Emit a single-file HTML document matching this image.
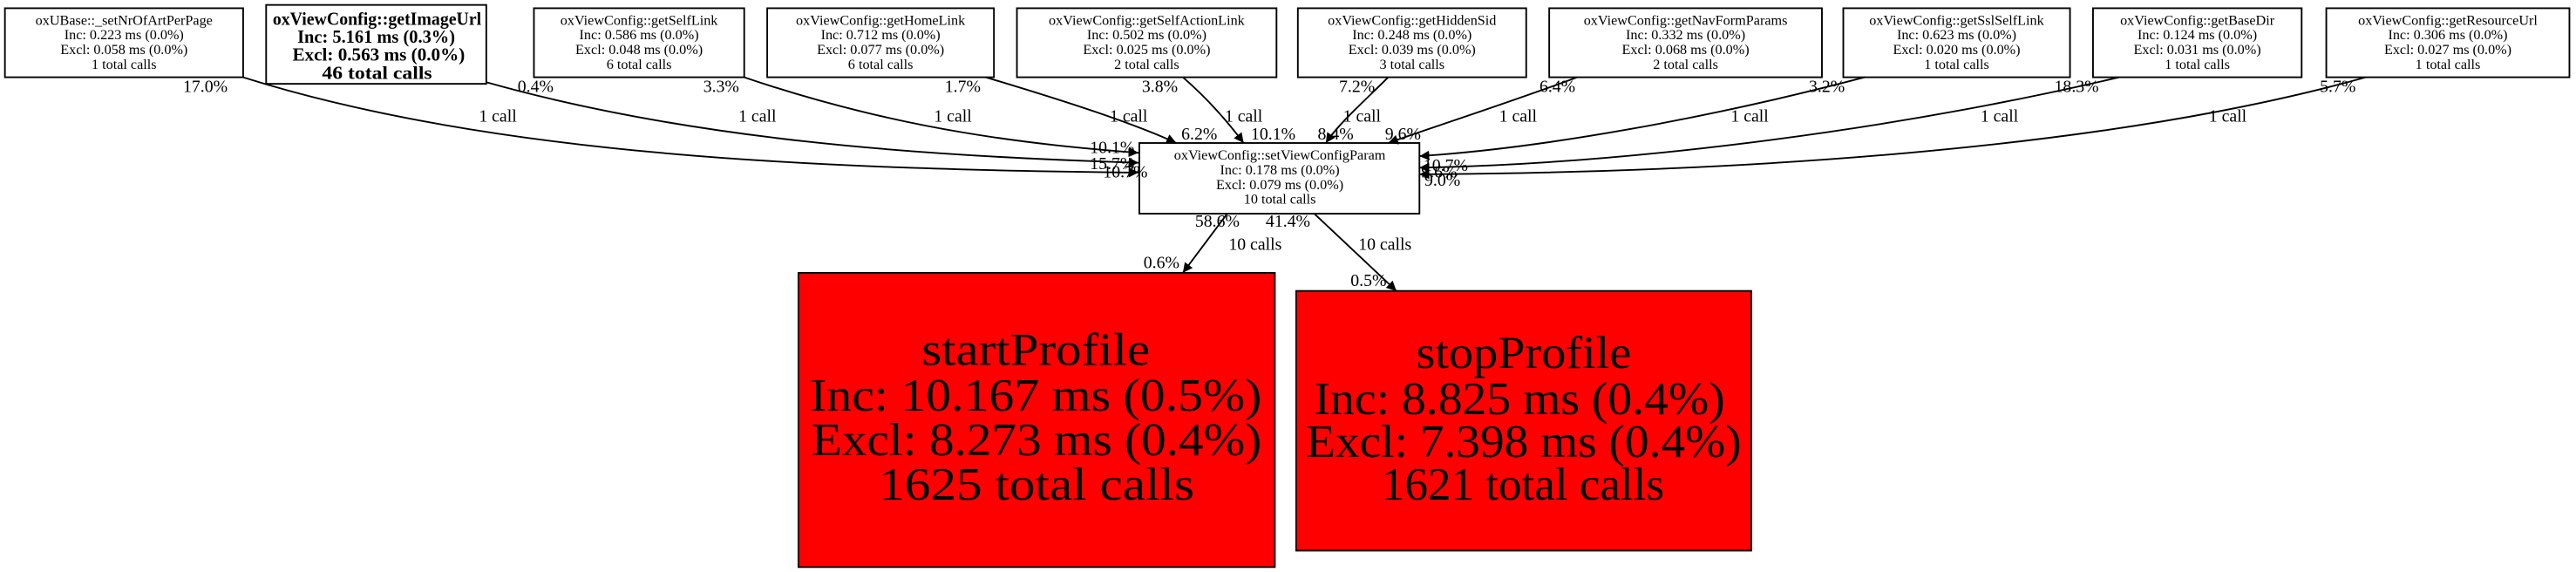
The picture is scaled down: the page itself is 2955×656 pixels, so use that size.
<!DOCTYPE html>
<html><head><meta charset="utf-8"><style>html,body{margin:0;padding:0;background:#fff}svg{display:block}</style></head>
<body>
<svg width="2955" height="656" viewBox="0 0 1568 348" preserveAspectRatio="none" xmlns="http://www.w3.org/2000/svg" font-family="Liberation Serif, serif">
<defs><marker id="a" viewBox="0 0 10 10" refX="10" refY="5" markerWidth="6" markerHeight="6" orient="auto"><path d="M0,0L10,5L0,10z" fill="#000"/></marker></defs>
<g fill="#fff" stroke="#000" stroke-width="1">
<rect x="3" y="5" width="145" height="42"/>
<rect x="162" y="3" width="134" height="48"/>
<rect x="325" y="5" width="128" height="42"/>
<rect x="467" y="5" width="138" height="42"/>
<rect x="619" y="5" width="158" height="42"/>
<rect x="790" y="5" width="139" height="42"/>
<rect x="943" y="5" width="166" height="42"/>
<rect x="1122" y="5" width="138" height="42"/>
<rect x="1274" y="5" width="127" height="42"/>
<rect x="1416" y="5" width="148" height="42"/>
<rect x="693.5" y="87" width="170.5" height="43"/>
<rect x="486" y="166" width="290" height="179" fill="#f00"/>
<rect x="789" y="177" width="277" height="158" fill="#f00"/>
</g>
<g fill="none" stroke="#000" stroke-width="1" marker-end="url(#a)">
<path d="M148,47 C300,95 500,103 693,105"/>
<path d="M296,50 C420,85 560,95 693,99"/>
<path d="M453,47 C550,80 630,88 693,93"/>
<path d="M600,47 C650,62 690,75 716,87"/>
<path d="M720,47 C735,60 748,75 757,87"/>
<path d="M845,47 C830,62 815,75 807,87"/>
<path d="M960,47 C920,62 870,78 845,87"/>
<path d="M1135,47 C1040,72 940,90 864,95"/>
<path d="M1290,47 C1140,82 980,100 864,102"/>
<path d="M1440,47 C1280,92 1050,105 864,106"/>
<path d="M747,130 L720,166"/>
<path d="M800,130 L850,177"/>
</g>
<g font-size="8.6" text-anchor="middle" fill="#000">
<text x="75.5" y="15">oxUBase::_setNrOfArtPerPage</text><text x="75.5" y="24">Inc: 0.223 ms (0.0%)</text><text x="75.5" y="33">Excl: 0.058 ms (0.0%)</text><text x="75.5" y="42">1 total calls</text>
<text x="389" y="15">oxViewConfig::getSelfLink</text><text x="389" y="24">Inc: 0.586 ms (0.0%)</text><text x="389" y="33">Excl: 0.048 ms (0.0%)</text><text x="389" y="42">6 total calls</text>
<text x="536" y="15">oxViewConfig::getHomeLink</text><text x="536" y="24">Inc: 0.712 ms (0.0%)</text><text x="536" y="33">Excl: 0.077 ms (0.0%)</text><text x="536" y="42">6 total calls</text>
<text x="698" y="15">oxViewConfig::getSelfActionLink</text><text x="698" y="24">Inc: 0.502 ms (0.0%)</text><text x="698" y="33">Excl: 0.025 ms (0.0%)</text><text x="698" y="42">2 total calls</text>
<text x="859.5" y="15">oxViewConfig::getHiddenSid</text><text x="859.5" y="24">Inc: 0.248 ms (0.0%)</text><text x="859.5" y="33">Excl: 0.039 ms (0.0%)</text><text x="859.5" y="42">3 total calls</text>
<text x="1026" y="15">oxViewConfig::getNavFormParams</text><text x="1026" y="24">Inc: 0.332 ms (0.0%)</text><text x="1026" y="33">Excl: 0.068 ms (0.0%)</text><text x="1026" y="42">2 total calls</text>
<text x="1191" y="15">oxViewConfig::getSslSelfLink</text><text x="1191" y="24">Inc: 0.623 ms (0.0%)</text><text x="1191" y="33">Excl: 0.020 ms (0.0%)</text><text x="1191" y="42">1 total calls</text>
<text x="1337.5" y="15">oxViewConfig::getBaseDir</text><text x="1337.5" y="24">Inc: 0.124 ms (0.0%)</text><text x="1337.5" y="33">Excl: 0.031 ms (0.0%)</text><text x="1337.5" y="42">1 total calls</text>
<text x="1490" y="15">oxViewConfig::getResourceUrl</text><text x="1490" y="24">Inc: 0.306 ms (0.0%)</text><text x="1490" y="33">Excl: 0.027 ms (0.0%)</text><text x="1490" y="42">1 total calls</text>
<text x="779" y="97">oxViewConfig::setViewConfigParam</text><text x="779" y="106">Inc: 0.178 ms (0.0%)</text><text x="779" y="115">Excl: 0.079 ms (0.0%)</text><text x="779" y="124">10 total calls</text>
</g>
<g font-size="11" text-anchor="middle" font-weight="bold">
<text x="229.5" y="15" textLength="127" lengthAdjust="spacingAndGlyphs">oxViewConfig::getImageUrl</text><text x="229" y="26" textLength="96" lengthAdjust="spacingAndGlyphs">Inc: 5.161 ms (0.3%)</text><text x="230.5" y="37" textLength="105" lengthAdjust="spacingAndGlyphs">Excl: 0.563 ms (0.0%)</text><text x="229.5" y="48" textLength="67" lengthAdjust="spacingAndGlyphs">46 total calls</text>
</g>
<g font-size="28" text-anchor="middle">
<text x="630.5" y="222" textLength="139" lengthAdjust="spacingAndGlyphs">startProfile</text><text x="630.5" y="250" textLength="275" lengthAdjust="spacingAndGlyphs">Inc: 10.167 ms (0.5%)</text><text x="631" y="277" textLength="274" lengthAdjust="spacingAndGlyphs">Excl: 8.273 ms (0.4%)</text><text x="631" y="304" textLength="192" lengthAdjust="spacingAndGlyphs">1625 total calls</text>
<text x="927.5" y="224" textLength="131" lengthAdjust="spacingAndGlyphs">stopProfile</text><text x="925" y="252" textLength="250" lengthAdjust="spacingAndGlyphs">Inc: 8.825 ms (0.4%)</text><text x="927.5" y="278" textLength="265" lengthAdjust="spacingAndGlyphs">Excl: 7.398 ms (0.4%)</text><text x="927" y="304" textLength="172" lengthAdjust="spacingAndGlyphs">1621 total calls</text>
</g>
<g font-size="10.5" text-anchor="middle">
<text x="125" y="56">17.0%</text><text x="303" y="74">1 call</text>
<text x="326" y="56">0.4%</text><text x="461" y="74">1 call</text>
<text x="439" y="56">3.3%</text><text x="580" y="74">1 call</text>
<text x="586" y="56">1.7%</text><text x="687" y="74">1 call</text>
<text x="706" y="56">3.8%</text><text x="757" y="74">1 call</text>
<text x="826" y="56">7.2%</text><text x="829" y="74">1 call</text>
<text x="948" y="56">6.4%</text><text x="924" y="74">1 call</text>
<text x="1112" y="56">3.2%</text><text x="1065" y="74">1 call</text>
<text x="1264" y="56">18.3%</text><text x="1217" y="74">1 call</text>
<text x="1423" y="56">5.7%</text><text x="1356" y="74">1 call</text>
<text x="730" y="85">6.2%</text><text x="775" y="85">10.1%</text><text x="813" y="85">8.4%</text><text x="854" y="85">9.6%</text>
<text x="677" y="93">10.1%</text><text x="677" y="103">15.7%</text><text x="685" y="108">10.7%</text>
<text x="880" y="104">10.7%</text><text x="876" y="108">9.6%</text><text x="878" y="113">9.0%</text>
<text x="741" y="138">58.6%</text><text x="784" y="138">41.4%</text>
<text x="764" y="152">10 calls</text><text x="843" y="152">10 calls</text>
<text x="707" y="163">0.6%</text><text x="833" y="174">0.5%</text>
</g>
</svg>
</body></html>
